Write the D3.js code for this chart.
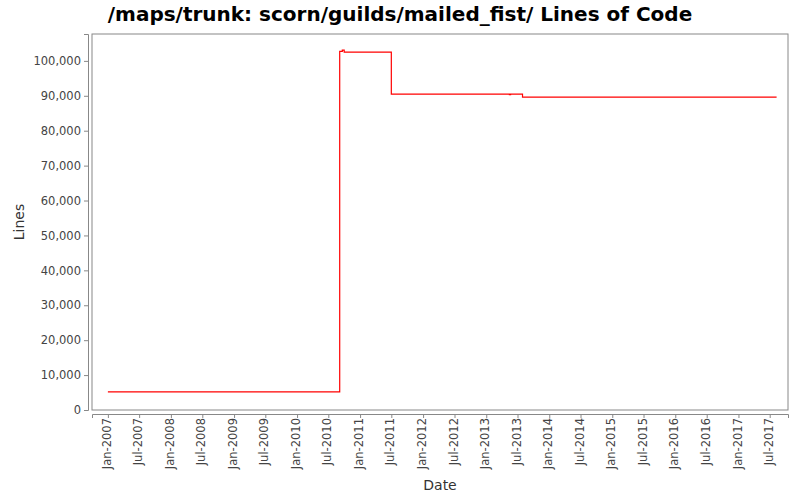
<!DOCTYPE html><html><head><script src="https://cdn.jsdelivr.net/npm/d3@7"></script>
<style>body{margin:0;background:#fff;font-family:"DejaVu Sans",sans-serif}</style></head><body><svg id="c" width="800" height="500"></svg>
<script>
const dates=["2007-01-01","2010-09-05","2010-09-20","2010-10-01","2011-07-01","2013-05-15","2013-05-22","2013-07-30","2017-08-10"];
const values=[5200,102700,103100,102500,90500,90300,90500,89600,89600];
const tickLabels=["Jan-2007","Jul-2007","Jan-2008","Jul-2008","Jan-2009","Jul-2009","Jan-2010","Jul-2010","Jan-2011","Jul-2011","Jan-2012","Jul-2012","Jan-2013","Jul-2013","Jan-2014","Jul-2014","Jan-2015","Jul-2015","Jan-2016","Jul-2016","Jan-2017","Jul-2017"];
const yTicks=[0,10000,20000,30000,40000,50000,60000,70000,80000,90000,100000];
const svg=d3.select("#c");
const L=92,R=788,T=34,B=410;
const p=d3.utcParse("%Y-%m-%d"),tp=d3.utcParse("%b-%Y");
const x=d3.scaleUtc().domain([p("2006-10-01"),p("2017-10-15")]).range([L,R]);
const y=d3.scaleLinear().domain([0,107700]).range([B,T]);
svg.append("rect").attr("x",L).attr("y",T).attr("width",R-L).attr("height",B-T).attr("fill","#fff").attr("stroke","#888");
const data=dates.map((d,i)=>({d:p(d),v:values[i]}));
svg.append("path").datum(data).attr("fill","none").attr("stroke","#f00").attr("stroke-width",1.2)
 .attr("d",d3.line().x(d=>x(d.d)).y(d=>y(d.v)).curve(d3.curveStepAfter));
const ya=svg.append("g").attr("transform",`translate(${L-4},0)`).call(d3.axisLeft(y).tickValues(yTicks).tickFormat(d3.format(",")).tickSize(4));
const xa=svg.append("g").attr("transform",`translate(0,${B+4})`).call(d3.axisBottom(x).tickValues(tickLabels.map(t=>tp(t))).tickFormat((d,i)=>tickLabels[i]).tickSize(4));
[ya,xa].forEach(a=>{a.select(".domain").attr("stroke","#888");a.selectAll("line").attr("stroke","#888");a.selectAll("text").attr("fill","#444").attr("font-size",11.5).attr("font-family","DejaVu Sans")});
xa.selectAll("text").attr("transform","rotate(-90)").attr("text-anchor","end").attr("dx","-4px").attr("dy","-0.3em").attr("x",0).attr("y",6);
svg.append("text").attr("x",400).attr("y",21).attr("text-anchor","middle").attr("font-weight","bold").attr("font-size",20).text("/maps/trunk: scorn/guilds/mailed_fist/ Lines of Code");
svg.append("text").attr("x",440).attr("y",490).attr("text-anchor","middle").attr("font-size",14).attr("fill","#333").text("Date");
svg.append("text").attr("transform","translate(24,222) rotate(-90)").attr("text-anchor","middle").attr("font-size",14).attr("fill","#333").text("Lines");
</script></body></html>
